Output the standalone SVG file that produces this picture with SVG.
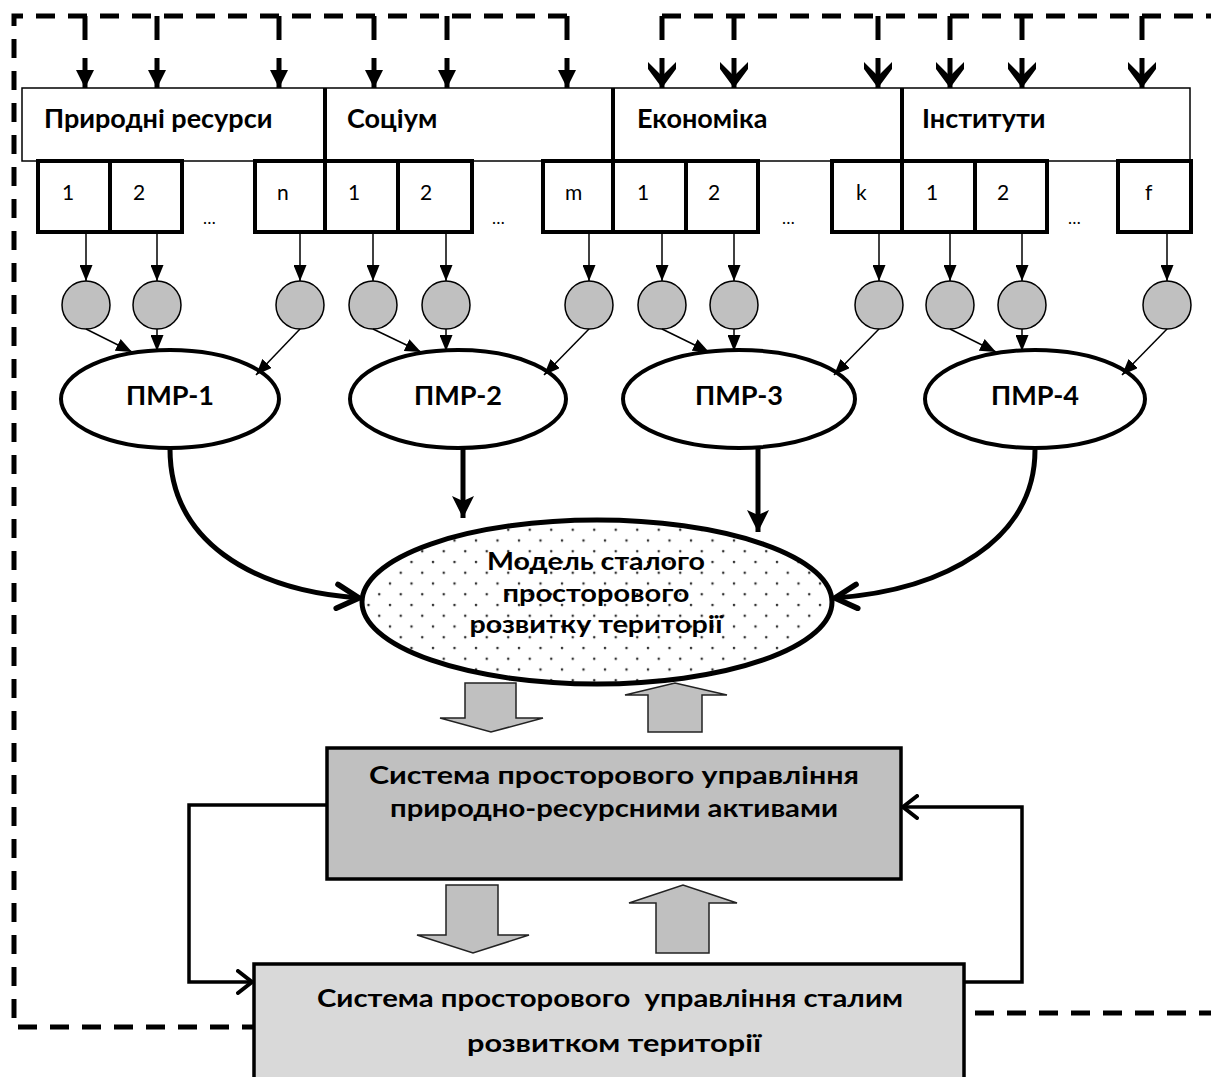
<svg xmlns="http://www.w3.org/2000/svg" width="1211" height="1077" viewBox="0 0 1211 1077">
  <style>
    .hdr { fill: #fff; stroke: #000; stroke-width: 1.5; }
    .div { stroke: #000; stroke-width: 4; }
    .cell { fill: #fff; stroke: #000; stroke-width: 4; }
    .hdrtxt { font-family: Lato, "Open Sans", sans-serif; font-weight: bold; font-size: 27px; fill: #000; }
    .num { font-family: Lato, "Open Sans", sans-serif; font-size: 21px; fill: #000; }
    .dots { font-family: Lato, "Open Sans", sans-serif; font-size: 17px; fill: #000; }
    .circ { fill: #c0c0c0; stroke: #000; stroke-width: 1.5; }
    .pmr { fill: #fff; stroke: #000; stroke-width: 4; }
    .pmrtxt { font-family: Lato, "Open Sans", sans-serif; font-weight: bold; font-size: 26px; text-anchor: middle; }
    .thin { fill: none; stroke: #000; stroke-width: 1.5; marker-end: url(#tri); }
    .dash { fill: none; stroke: #000; stroke-width: 5; stroke-dasharray: 19 13; }
    .stub { stroke: #000; stroke-width: 5; }
    .inA { stroke: #000; stroke-width: 5; marker-end: url(#topTri); }
    .inB { stroke: #000; stroke-width: 5; marker-end: url(#topChev); }
    .thick { fill: none; stroke: #000; stroke-width: 5; }
    .block { fill: #c0c0c0; stroke: #222; stroke-width: 1.5; }
    .fb { fill: none; stroke: #000; stroke-width: 3.5; marker-end: url(#openV); }
    .boxtxt { font-family: Lato, "Open Sans", sans-serif; font-weight: bold; font-size: 25px; text-anchor: middle; }
  </style>
  <defs>
    <marker id="tri" markerUnits="userSpaceOnUse" markerWidth="16" markerHeight="13" viewBox="0 0 16 13" refX="16" refY="6.5" orient="auto">
      <path d="M0,0 L16,6.5 L0,13 z" fill="#000"/>
    </marker>
    <marker id="topTri" markerUnits="userSpaceOnUse" markerWidth="18" markerHeight="18" viewBox="0 0 18 18" refX="18" refY="9" orient="auto">
      <path d="M0,0 L18,9 L0,18 z" fill="#000"/>
    </marker>
    <marker id="topChev" markerUnits="userSpaceOnUse" markerWidth="26" markerHeight="30" viewBox="0 0 26 30" refX="26" refY="15" orient="auto">
      <path d="M0,1 L7,1 L26,15 L7,29 L0,29 L14,15 z" fill="#000"/>
    </marker>
    <marker id="bigTri" markerUnits="userSpaceOnUse" markerWidth="22" markerHeight="22" viewBox="0 0 22 22" refX="22" refY="11" orient="auto">
      <path d="M0,0 L22,11 L0,22 L5,11 z" fill="#000"/>
    </marker>
    <marker id="openV" markerUnits="userSpaceOnUse" markerWidth="18" markerHeight="26" viewBox="0 0 18 26" refX="16" refY="13" orient="auto">
      <path d="M2,2 L16,13 L2,24" fill="none" stroke="#000" stroke-width="4" stroke-linecap="round"/>
    </marker>
    <marker id="openVbig" markerUnits="userSpaceOnUse" markerWidth="28" markerHeight="30" viewBox="0 0 28 30" refX="25" refY="15" orient="auto">
      <path d="M3,3 L25,15 L3,27" fill="none" stroke="#000" stroke-width="5.5" stroke-linecap="round"/>
    </marker>
    <pattern id="dotfill" patternUnits="userSpaceOnUse" width="21.5" height="21.5">
      <circle cx="3" cy="3" r="1.3" fill="#333"/>
      <circle cx="13.75" cy="13.75" r="1.3" fill="#333"/>
    </pattern>
  </defs>

  <!-- dashed feedback frame -->
  <g id="frame">
    <path class="dash" d="M567,16 H14 V1027 H254"/>
    <path class="dash" d="M662,16 H1211"/>
    <path class="dash" d="M975,1013 H1211"/>
  </g>

  <!-- factor blocks -->
  <g id="header">
    <rect class="hdr" x="22" y="88" width="1168" height="73"/>
    <line class="div" x1="325" y1="88" x2="325" y2="161"/>
    <line class="div" x1="613" y1="88" x2="613" y2="161"/>
    <line class="div" x1="902" y1="88" x2="902" y2="161"/>
    <text class="hdrtxt" x="44" y="128">Природні ресурси</text>
    <text class="hdrtxt" x="347" y="128">Соціум</text>
    <text class="hdrtxt" x="637" y="128">Економіка</text>
    <text class="hdrtxt" x="922" y="128">Інститути</text>
  </g>

  <g id="cells">
    <rect class="cell" x="38" y="161" width="72" height="71"/>
    <rect class="cell" x="110" y="161" width="72" height="71"/>
    <rect class="cell" x="255" y="161" width="70" height="71"/>
    <rect class="cell" x="325" y="161" width="73" height="71"/>
    <rect class="cell" x="398" y="161" width="74" height="71"/>
    <rect class="cell" x="543" y="161" width="70" height="71"/>
    <rect class="cell" x="613" y="161" width="73" height="71"/>
    <rect class="cell" x="686" y="161" width="72" height="71"/>
    <rect class="cell" x="832" y="161" width="70" height="71"/>
    <rect class="cell" x="902" y="161" width="73" height="71"/>
    <rect class="cell" x="975" y="161" width="72" height="71"/>
    <rect class="cell" x="1118" y="161" width="73" height="71"/>
    <text class="num" x="62" y="200">1</text>
    <text class="num" x="133" y="200">2</text>
    <text class="num" x="277" y="200">n</text>
    <text class="num" x="348" y="200">1</text>
    <text class="num" x="420" y="200">2</text>
    <text class="num" x="565" y="200">m</text>
    <text class="num" x="637" y="200">1</text>
    <text class="num" x="708" y="200">2</text>
    <text class="num" x="856" y="200">k</text>
    <text class="num" x="926" y="200">1</text>
    <text class="num" x="997" y="200">2</text>
    <text class="num" x="1145" y="200">f</text>
    <text class="dots" x="203" y="224">…</text>
    <text class="dots" x="492" y="224">…</text>
    <text class="dots" x="782" y="224">…</text>
    <text class="dots" x="1068" y="224">…</text>
  </g>

  <!-- indicator nodes -->
  <g id="indicators">
    <circle class="circ" cx="86" cy="305" r="24"/>
    <circle class="circ" cx="157" cy="305" r="24"/>
    <circle class="circ" cx="300" cy="305" r="24"/>
    <circle class="circ" cx="373" cy="305" r="24"/>
    <circle class="circ" cx="446" cy="305" r="24"/>
    <circle class="circ" cx="589" cy="305" r="24"/>
    <circle class="circ" cx="662" cy="305" r="24"/>
    <circle class="circ" cx="734" cy="305" r="24"/>
    <circle class="circ" cx="879" cy="305" r="24"/>
    <circle class="circ" cx="950" cy="305" r="24"/>
    <circle class="circ" cx="1022" cy="305" r="24"/>
    <circle class="circ" cx="1167" cy="305" r="24"/>
  </g>

  <g id="pmr1">
    <ellipse class="pmr" cx="170" cy="399" rx="109" ry="49"/>
    <text class="pmrtxt" x="170" y="405" textLength="88" lengthAdjust="spacingAndGlyphs">ПМР-1</text>
  </g>
  <g id="pmr2">
    <ellipse class="pmr" cx="458" cy="399" rx="108" ry="49"/>
    <text class="pmrtxt" x="458" y="405" textLength="88" lengthAdjust="spacingAndGlyphs">ПМР-2</text>
  </g>
  <g id="pmr3">
    <ellipse class="pmr" cx="739" cy="399" rx="116" ry="49"/>
    <text class="pmrtxt" x="739" y="405" textLength="88" lengthAdjust="spacingAndGlyphs">ПМР-3</text>
  </g>
  <g id="pmr4">
    <ellipse class="pmr" cx="1035" cy="399" rx="110" ry="49"/>
    <text class="pmrtxt" x="1035" y="405" textLength="88" lengthAdjust="spacingAndGlyphs">ПМР-4</text>
  </g>

  <g id="model">
    <ellipse cx="597" cy="602" rx="235" ry="82" fill="#fff"/>
    <ellipse cx="597" cy="602" rx="235" ry="82" fill="url(#dotfill)" stroke="#000" stroke-width="5"/>
    <text class="boxtxt" x="596" y="570" textLength="218" lengthAdjust="spacingAndGlyphs">Модель сталого</text>
    <text class="boxtxt" x="596" y="602" textLength="187" lengthAdjust="spacingAndGlyphs">просторового</text>
    <text class="boxtxt" x="596" y="633" textLength="253" lengthAdjust="spacingAndGlyphs">розвитку території</text>
  </g>

  <g id="assets">
    <rect x="327" y="748" width="574" height="131" fill="#c0c0c0" stroke="#000" stroke-width="3.5"/>
    <text class="boxtxt" x="614" y="784" textLength="490" lengthAdjust="spacingAndGlyphs">Система просторового управління</text>
    <text class="boxtxt" x="614" y="817" textLength="448" lengthAdjust="spacingAndGlyphs">природно-ресурсними активами</text>
  </g>

  <g id="development">
    <rect x="254" y="964" width="710" height="130" fill="#d9d9d9" stroke="#000" stroke-width="3.5"/>
    <text class="boxtxt" x="610" y="1007" textLength="586" lengthAdjust="spacingAndGlyphs" xml:space="preserve">Система просторового  управління сталим</text>
    <text class="boxtxt" x="614" y="1052" textLength="294" lengthAdjust="spacingAndGlyphs">розвитком території</text>
  </g>

  <g id="connectors">
    <!-- drops from the dashed frame -->
    <g class="stub">
      <line x1="85" y1="16" x2="85" y2="40"/>
      <line x1="157" y1="16" x2="157" y2="40"/>
      <line x1="279" y1="16" x2="279" y2="40"/>
      <line x1="374" y1="16" x2="374" y2="40"/>
      <line x1="447" y1="16" x2="447" y2="40"/>
      <line x1="567" y1="16" x2="567" y2="40"/>
      <line x1="662" y1="16" x2="662" y2="40"/>
      <line x1="734" y1="16" x2="734" y2="40"/>
      <line x1="878" y1="16" x2="878" y2="40"/>
      <line x1="950" y1="16" x2="950" y2="40"/>
      <line x1="1022" y1="16" x2="1022" y2="40"/>
      <line x1="1142" y1="16" x2="1142" y2="40"/>
    </g>
    <line class="inA" x1="85" y1="58" x2="85" y2="88"/>
    <line class="inA" x1="157" y1="58" x2="157" y2="88"/>
    <line class="inA" x1="279" y1="58" x2="279" y2="88"/>
    <line class="inA" x1="374" y1="58" x2="374" y2="88"/>
    <line class="inA" x1="447" y1="58" x2="447" y2="88"/>
    <line class="inA" x1="567" y1="58" x2="567" y2="88"/>
    <line class="inB" x1="662" y1="58" x2="662" y2="88"/>
    <line class="inB" x1="734" y1="58" x2="734" y2="88"/>
    <line class="inB" x1="878" y1="58" x2="878" y2="88"/>
    <line class="inB" x1="950" y1="58" x2="950" y2="88"/>
    <line class="inB" x1="1022" y1="58" x2="1022" y2="88"/>
    <line class="inB" x1="1142" y1="58" x2="1142" y2="88"/>

    <!-- cells to indicators -->
    <line class="thin" x1="86" y1="232" x2="86" y2="281"/>
    <line class="thin" x1="157" y1="232" x2="157" y2="281"/>
    <line class="thin" x1="300" y1="232" x2="300" y2="281"/>
    <line class="thin" x1="373" y1="232" x2="373" y2="281"/>
    <line class="thin" x1="446" y1="232" x2="446" y2="281"/>
    <line class="thin" x1="589" y1="232" x2="589" y2="281"/>
    <line class="thin" x1="662" y1="232" x2="662" y2="281"/>
    <line class="thin" x1="734" y1="232" x2="734" y2="281"/>
    <line class="thin" x1="879" y1="232" x2="879" y2="281"/>
    <line class="thin" x1="950" y1="232" x2="950" y2="281"/>
    <line class="thin" x1="1022" y1="232" x2="1022" y2="281"/>
    <line class="thin" x1="1167" y1="232" x2="1167" y2="281"/>

    <!-- indicators to ПМР -->
    <line class="thin" x1="86" y1="329" x2="132" y2="352"/>
    <line class="thin" x1="157" y1="329" x2="157" y2="351"/>
    <line class="thin" x1="300" y1="329" x2="256" y2="375"/>
    <line class="thin" x1="373" y1="329" x2="421" y2="352"/>
    <line class="thin" x1="446" y1="329" x2="446" y2="351"/>
    <line class="thin" x1="589" y1="329" x2="544" y2="375"/>
    <line class="thin" x1="662" y1="329" x2="709" y2="352"/>
    <line class="thin" x1="734" y1="329" x2="734" y2="351"/>
    <line class="thin" x1="879" y1="329" x2="834" y2="375"/>
    <line class="thin" x1="950" y1="329" x2="996" y2="352"/>
    <line class="thin" x1="1022" y1="329" x2="1022" y2="351"/>
    <line class="thin" x1="1167" y1="329" x2="1122" y2="375"/>

    <!-- ПМР to model -->
    <path class="thick" d="M170,449 C170,540 250,590 359,598" marker-end="url(#openVbig)"/>
    <path class="thick" d="M1035,450 C1035,540 945,590 835,598" marker-end="url(#openVbig)"/>
    <path class="thick" d="M463,449 V518" marker-end="url(#bigTri)"/>
    <path class="thick" d="M758,449 V532" marker-end="url(#bigTri)"/>

    <!-- two-way block arrows -->
    <path class="block" d="M465,683 H516 V718 H543 L491,732 L440,718 H465 Z"/>
    <path class="block" d="M648,732 V695 H625 L675,683 L727,695 H702 V732 Z"/>
    <path class="block" d="M446,885 H498 V935 H529 L473,953 L417,935 H446 Z"/>
    <path class="block" d="M656,953 V903 H629 L683,885 L737,903 H709 V953 Z"/>

    <!-- feedback loop between the systems -->
    <path class="fb" d="M327,805 H189 V982 H252"/>
    <path class="fb" d="M964,982 H1022 V807 H903"/>
  </g>
</svg>
